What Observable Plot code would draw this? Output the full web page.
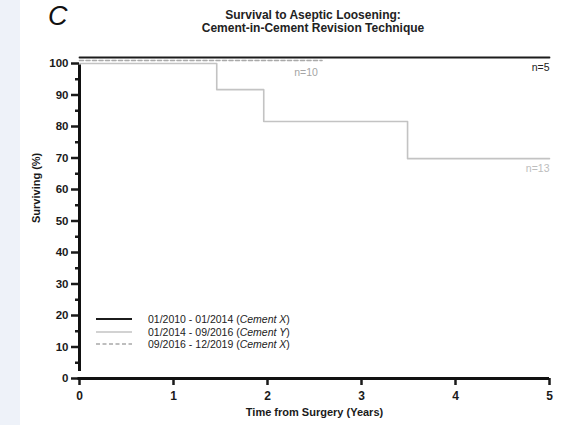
<!DOCTYPE html>
<html><head><meta charset="utf-8">
<script src="https://cdn.jsdelivr.net/npm/d3@7"></script>
<script src="https://cdn.jsdelivr.net/npm/@observablehq/plot@0.6"></script>
<style>
body{margin:0;width:561px;height:425px;overflow:hidden;background:linear-gradient(to right,#eef2f9 0,#eef2f9 20px,#fff 20px);font-family:"Liberation Sans",Arial,sans-serif;}
#wrap{position:relative;width:561px;height:425px;}
#chart{position:absolute;left:0;top:0;}
.ov{position:absolute;white-space:nowrap;}
#panel{left:48px;top:1px;font-size:27px;font-style:italic;color:#111;}
#title{left:163px;width:300px;top:9px;text-align:center;font-weight:bold;font-size:12px;line-height:13px;color:#222;}
#legend{left:96px;top:313px;font-size:10.5px;color:#222;line-height:12.5px;}
#legend .row{display:flex;align-items:center;height:12.5px;}
#legend svg{width:36px;height:10px;margin-right:16px;}
</style></head>
<body><div id="wrap">
<div id="chart"></div>
<div class="ov" id="panel">C</div>
<div class="ov" id="title">Survival to Aseptic Loosening:<br>Cement-in-Cement Revision Technique</div>
<div class="ov" id="legend"></div>
</div>
<script>
// Data
const groups = ["01/2010 - 01/2014", "01/2014 - 09/2016", "09/2016 - 12/2019"];
const cements = ["Cement X", "Cement Y", "Cement X"];
const nLabels = ["n=5", "n=13", "n=10"];
const timeA = [0, 5];
const survA = [100, 100];
const timeB = [0, 1.46, 1.96, 3.49, 5];
const survB = [100, 91.7, 81.6, 69.8, 69.8];
const timeC = [0, 2.58];
const survC = [100, 100];
const yTicks = [0, 10, 20, 30, 40, 50, 60, 70, 80, 90, 100];
const yMinor = [5, 15, 25, 35, 45, 55, 65, 75, 85, 95];
const xTicks = [0, 1, 2, 3, 4, 5];

const colA = "#1c1c1c", colB = "#c3c3c3", colC = "#a9a9a9";
const toPts = (t, s) => t.map((d, i) => ({t: d, s: s[i]}));
const A = toPts(timeA, survA), B = toPts(timeB, survB), C = toPts(timeC, survC);

const labelA = [{t: timeA[1], s: survA[1], n: nLabels[0]}];
const labelB = [{t: timeB[timeB.length-1], s: survB[survB.length-1], n: nLabels[1]}];
const labelC = [{t: 2.41, s: survC[1], n: nLabels[2]}];

const font = "Liberation Sans, Arial, sans-serif";
const chart = Plot.plot({
  width: 561, height: 425,
  marginLeft: 79, marginRight: 12, marginTop: 63, marginBottom: 47,
  style: {background: "transparent", fontFamily: font, color: "#1a1a1a"},
  x: {domain: [0, 5], axis: null},
  y: {domain: [0, 100], axis: null},
  marks: [
    Plot.line(B, {x: "t", y: "s", curve: "step-after", stroke: colB, strokeWidth: 1.6}),
    Plot.line(C, {x: "t", y: "s", stroke: colC, strokeWidth: 1.6, strokeDasharray: "4,2.5", dy: -3}),
    Plot.line(A, {x: "t", y: "s", stroke: colA, strokeWidth: 1.8, dy: -6}),
    Plot.axisY(yTicks, {label: null, tickSize: 8, strokeWidth: 2.5, tickPadding: 3, fontSize: 11.5, fontWeight: "bold", fill: "#1a1a1a"}),
    Plot.axisY(yMinor, {label: null, tickSize: 4, strokeWidth: 2.5, tickFormat: () => ""}),
    Plot.axisX(xTicks, {label: null, tickSize: 7, strokeWidth: 2.5, tickPadding: 6, fontSize: 12, fontWeight: "bold", fill: "#1a1a1a"}),
    Plot.ruleX([0], {y1: 0, y2: 100, stroke: "#111", strokeWidth: 3, insetTop: -7, insetBottom: -1.5}),
    Plot.ruleY([0], {x1: 0, x2: 5, stroke: "#111", strokeWidth: 3, insetLeft: -1.5}),
    Plot.text(labelA, {x: "t", y: "s", text: "n", textAnchor: "end", dy: 4, fontSize: 10.5, fill: "#222"}),
    Plot.text(labelB, {x: "t", y: "s", text: "n", textAnchor: "end", dy: 10, fontSize: 10.5, fill: "#bdbdbd"}),
    Plot.text(labelC, {x: "t", y: "s", text: "n", textAnchor: "middle", dy: 9, fontSize: 10.5, fill: "#a5a5a5"}),
    Plot.text(["Time from Surgery (Years)"], {frameAnchor: "bottom", dy: 37, fontSize: 11, fontWeight: "bold", fill: "#1a1a1a"}),
    Plot.text(["Surviving (%)"], {frameAnchor: "left", dx: -43, dy: 2, rotate: -90, fontSize: 11, fontWeight: "bold", fill: "#1a1a1a"})
  ]
});
document.getElementById("chart").appendChild(chart);

const styles = [
  {stroke: colA, w: 1.8, dash: null},
  {stroke: colB, w: 1.6, dash: null},
  {stroke: colC, w: 1.4, dash: "4,2.5"}
];
const leg = document.getElementById("legend");
groups.forEach((g, i) => {
  const row = document.createElement("div");
  row.className = "row";
  const st = styles[i];
  row.innerHTML = `<svg viewBox="0 0 36 10"><line x1="0" y1="5" x2="36" y2="5" stroke="${st.stroke}" stroke-width="${st.w}" ${st.dash ? `stroke-dasharray="${st.dash}"` : ""}/></svg><span>${g} (<i>${cements[i]}</i>)</span>`;
  leg.appendChild(row);
});
</script>
</body></html>
